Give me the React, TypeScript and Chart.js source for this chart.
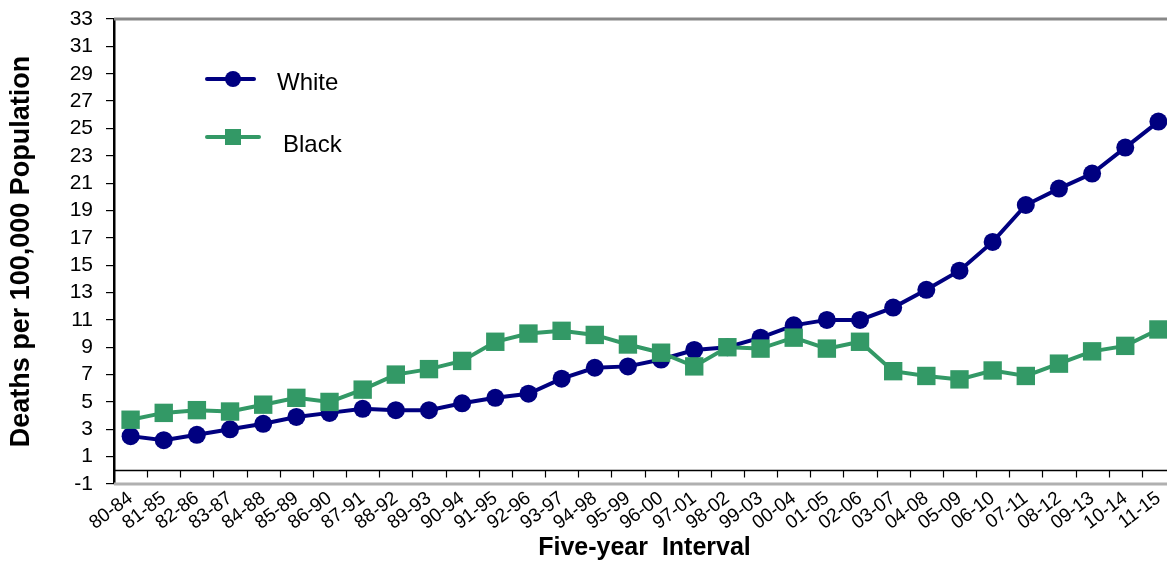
import React, { useEffect, useRef } from "react";
import { Chart, registerables } from "chart.js";

Chart.register(...registerables);

const categories = [
  "80-84", "81-85", "82-86", "83-87", "84-88", "85-89", "86-90", "87-91",
  "88-92", "89-93", "90-94", "91-95", "92-96", "93-97", "94-98", "95-99",
  "96-00", "97-01", "98-02", "99-03", "00-04", "01-05", "02-06", "03-07",
  "04-08", "05-09", "06-10", "07-11", "08-12", "09-13", "10-14", "11-15",
];

const whiteValues = [
  2.5, 2.2, 2.6, 3.0, 3.4, 3.9, 4.2, 4.5, 4.4, 4.4, 4.9, 5.3, 5.6, 6.7, 7.5, 7.6,
  8.1, 8.8, 9.0, 9.7, 10.6, 11.0, 11.0, 11.9, 13.2, 14.6, 16.7, 19.4, 20.6, 21.7, 23.6, 25.5,
];

const blackValues = [
  3.7, 4.2, 4.4, 4.3, 4.8, 5.3, 5.0, 5.9, 7.0, 7.4, 8.0, 9.4, 10.0, 10.2, 9.9, 9.2,
  8.6, 7.6, 9.0, 8.9, 9.7, 8.9, 9.4, 7.25, 6.9, 6.65, 7.3, 6.9, 7.8, 8.7, 9.1, 10.3,
];

const seriesNames = ["White", "Black"];
const yMin = -1;
const yMax = 33;
const yStep = 2;

const WHITE_COLOR = "#000080";
const BLACK_COLOR = "#339966";
const FONT = "'Liberation Sans', Arial, sans-serif";

const framePlugin = {
  id: "frame",
  beforeDatasetsDraw(chart: any) {
    const { ctx, chartArea, scales } = chart;
    const x = scales.x;
    const y = scales.y;
    ctx.save();
    ctx.strokeStyle = "#888888";
    ctx.lineWidth = 3;
    ctx.beginPath();
    ctx.moveTo(chartArea.left, chartArea.top);
    ctx.lineTo(chartArea.right, chartArea.top);
    ctx.stroke();
    ctx.strokeStyle = "#b0b0b0";
    ctx.lineWidth = 3;
    ctx.beginPath();
    ctx.moveTo(chartArea.left, chartArea.bottom);
    ctx.lineTo(chartArea.right, chartArea.bottom);
    ctx.stroke();
    const y0 = Math.round(y.getPixelForValue(0)) + 0.5;
    ctx.strokeStyle = "#000000";
    ctx.lineWidth = 1.5;
    ctx.beginPath();
    ctx.moveTo(chartArea.left, y0);
    ctx.lineTo(chartArea.right, y0);
    ctx.stroke();
    ctx.lineWidth = 1.2;
    const half = (x.getPixelForValue(1) - x.getPixelForValue(0)) / 2;
    for (let i = 0; i < categories.length; i++) {
      const px = Math.round(x.getPixelForValue(i) + half) + 0.5;
      if (px > chartArea.right) continue;
      ctx.beginPath();
      ctx.moveTo(px, y0);
      ctx.lineTo(px, y0 + 7);
      ctx.stroke();
    }
    ctx.restore();
  },
  afterDatasetsDraw(chart: any) {
    const { ctx, chartArea } = chart;
    ctx.save();
    const lx = chartArea.left;
    const ty = chartArea.top;
    ctx.lineCap = "round";
    ctx.strokeStyle = WHITE_COLOR;
    ctx.lineWidth = 4;
    ctx.beginPath();
    ctx.moveTo(lx + 93, ty + 60);
    ctx.lineTo(lx + 140, ty + 60);
    ctx.stroke();
    ctx.fillStyle = WHITE_COLOR;
    ctx.beginPath();
    ctx.arc(lx + 119, ty + 60, 8, 0, Math.PI * 2);
    ctx.fill();
    ctx.strokeStyle = BLACK_COLOR;
    ctx.beginPath();
    ctx.moveTo(lx + 93, ty + 118);
    ctx.lineTo(lx + 145, ty + 118);
    ctx.stroke();
    ctx.fillStyle = BLACK_COLOR;
    ctx.fillRect(lx + 119 - 8, ty + 118 - 8, 16, 16);
    ctx.fillStyle = "#000000";
    ctx.font = `24px ${FONT}`;
    ctx.textBaseline = "alphabetic";
    ctx.textAlign = "left";
    ctx.fillText(seriesNames[0], lx + 163, ty + 71);
    ctx.fillText(seriesNames[1], lx + 169, ty + 133);
    ctx.restore();
  },
};

export default function App() {
  const canvasRef = useRef<HTMLCanvasElement | null>(null);

  useEffect(() => {
    document.body.style.margin = "0";
    document.body.style.overflow = "hidden";
    const canvas = canvasRef.current;
    if (!canvas) return;
    const chart = new Chart(canvas, {
      type: "line",
      data: {
        labels: categories,
        datasets: [
          {
            label: seriesNames[0],
            data: whiteValues,
            borderColor: WHITE_COLOR,
            backgroundColor: WHITE_COLOR,
            borderWidth: 4,
            pointStyle: "circle",
            pointRadius: 9,
            pointBorderWidth: 0,
            pointBackgroundColor: WHITE_COLOR,
            tension: 0,
            order: 2,
          },
          {
            label: seriesNames[1],
            data: blackValues,
            borderColor: BLACK_COLOR,
            backgroundColor: BLACK_COLOR,
            borderWidth: 4,
            pointStyle: "rect",
            pointRadius: 13,
            pointBorderWidth: 0,
            pointBackgroundColor: BLACK_COLOR,
            tension: 0,
            order: 1,
          },
        ],
      },
      options: {
        animation: false,
        responsive: true,
        maintainAspectRatio: false,
        layout: { autoPadding: false, padding: { top: 19, right: 0, left: 0, bottom: 0 } },
        plugins: {
          legend: { display: false },
          tooltip: { enabled: false },
          title: { display: false },
        },
        scales: {
          x: {
            type: "category",
            offset: true,
            grid: { display: false, drawTicks: false, offset: true },
            border: { display: false },
            ticks: {
              autoSkip: false,
              minRotation: 37,
              maxRotation: 37,
              color: "#000000",
              font: { family: FONT, size: 19 },
              padding: 3,
            },
            title: {
              display: true,
              text: "Five-year  Interval",
              color: "#000000",
              font: { family: FONT, size: 25, weight: "bold", lineHeight: 1 },
              padding: { top: 0, bottom: 0 },
            },
            afterFit(scale: any) {
              scale.height = 77;
              scale.paddingRight = 0;
              scale.paddingLeft = 0;
            },
          },
          y: {
            min: yMin,
            max: yMax,
            grid: {
              display: true,
              drawOnChartArea: false,
              drawTicks: true,
              tickLength: 8,
              color: "#000000",
              lineWidth: 1.2,
            },
            border: { display: true, color: "#000000", width: 2.5 },
            ticks: {
              stepSize: yStep,
              autoSkip: false,
              color: "#000000",
              font: { family: FONT, size: 21 },
              padding: 13,
            },
            title: {
              display: true,
              text: "Deaths per 100,000 Population",
              color: "#000000",
              font: { family: FONT, size: 27, weight: "bold" },
              padding: { top: 5, bottom: 0 },
            },
            afterFit(scale: any) {
              scale.width = 114;
              scale.paddingTop = 0;
              scale.paddingBottom = 0;
            },
          },
        },
      },
      plugins: [framePlugin],
    });
    return () => chart.destroy();
  }, []);

  return (
    <div style={{ position: "absolute", left: 0, top: 0, width: 1167, height: 561, overflow: "hidden" }}>
      <div style={{ position: "relative", width: 1175, height: 561 }}>
        <canvas ref={canvasRef} />
      </div>
    </div>
  );
}
